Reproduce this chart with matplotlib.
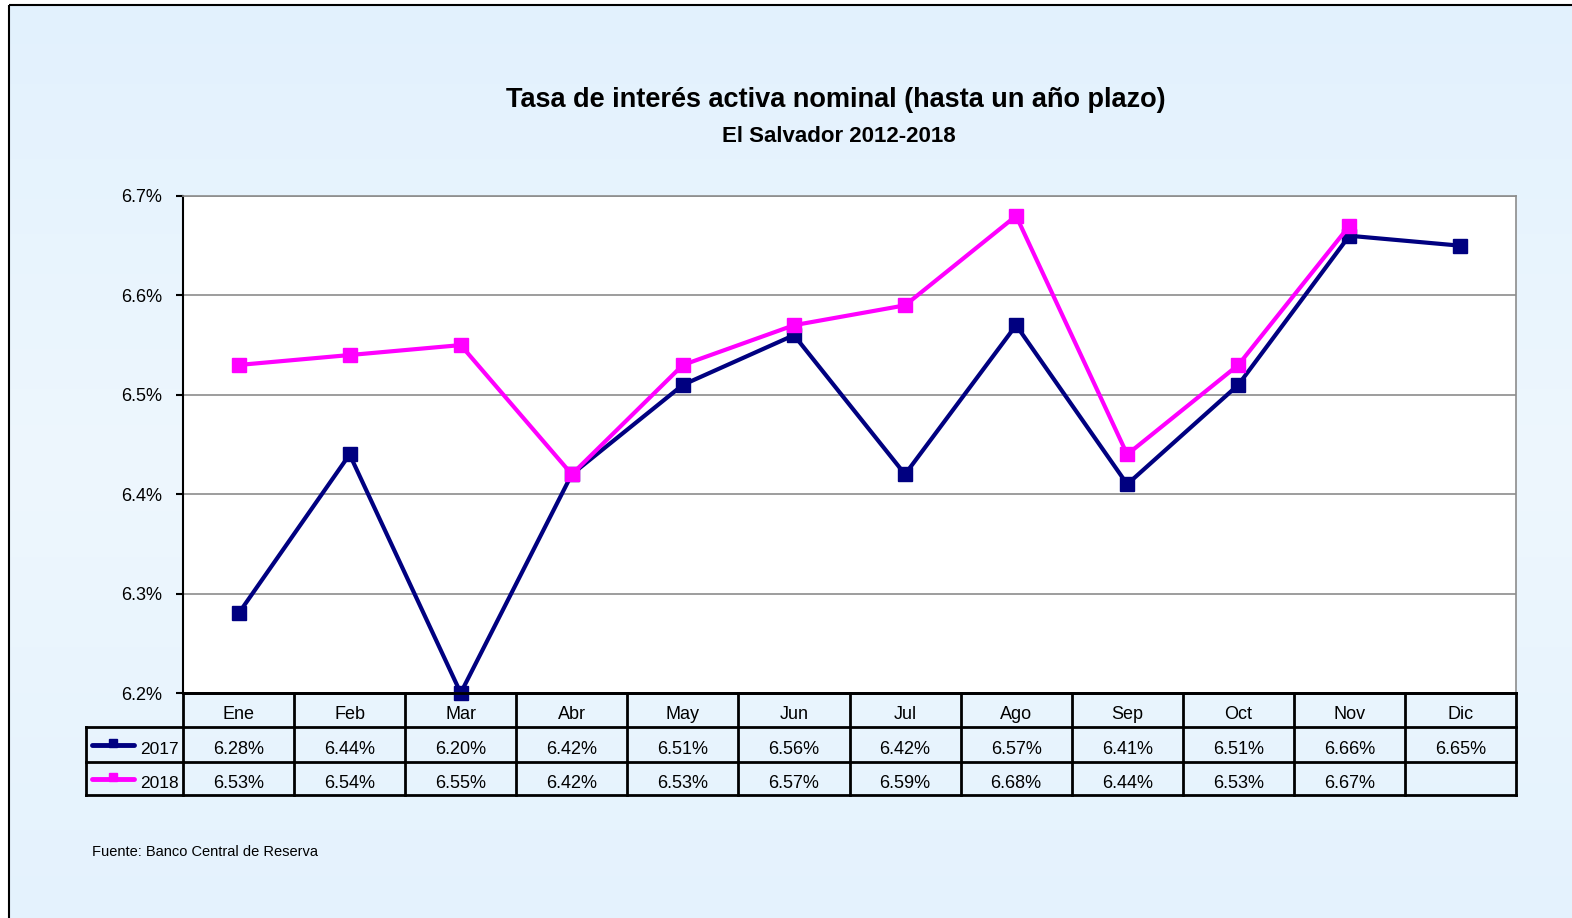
import matplotlib
matplotlib.use("Agg")
import matplotlib.pyplot as plt
from matplotlib.patches import Rectangle
from matplotlib.colors import LinearSegmentedColormap
import numpy as np

plt.rcParams['font.family'] = ['Liberation Sans', 'DejaVu Sans']

months = ["Ene", "Feb", "Mar", "Abr", "May", "Jun", "Jul", "Ago", "Sep", "Oct", "Nov", "Dic"]
s2017 = [6.28, 6.44, 6.20, 6.42, 6.51, 6.56, 6.42, 6.57, 6.41, 6.51, 6.66, 6.65]
s2018 = [6.53, 6.54, 6.55, 6.42, 6.53, 6.57, 6.59, 6.68, 6.44, 6.53, 6.67, None]
yticks = [6.2, 6.3, 6.4, 6.5, 6.6, 6.7]
title = "Tasa de interés activa nominal (hasta un año plazo)"
subtitle = "El Salvador 2012-2018"
source = "Fuente: Banco Central de Reserva"

C17 = "#000080"
C18 = "#FF00FF"
W, H = 1572, 918
fig = plt.figure(figsize=(W / 100, H / 100), dpi=100)
fig.patch.set_facecolor("white")

# background panel with border
bg = fig.add_axes([0, 0, 1, 1])
bg.set_xlim(0, W)
bg.set_ylim(H, 0)
bg.axis("off")
grad = np.linspace(0, 1, 256).reshape(-1, 1)
cm = LinearSegmentedColormap.from_list("g", ["#E2F1FD", "#EEF7FE", "#E4F2FD"])
bg.imshow(grad, extent=[9, W + 5, H + 5, 5], cmap=cm, aspect="auto", zorder=0)
bg.add_patch(Rectangle((9, 5), W, H, fill=False, edgecolor="black", lw=1.5, zorder=1))

L, R, T, B = 183, 1516, 196, 693
ax = fig.add_axes([L / W, 1 - B / H, (R - L) / W, (B - T) / H])
ax.set_facecolor("white")
x = np.arange(len(months))
ax.set_xlim(-0.5, len(months) - 0.5)
ax.set_ylim(6.2, 6.7)
ax.set_yticks(yticks)
ax.set_yticklabels([f"{v:.1f}%" for v in yticks], fontsize=13)
ax.yaxis.grid(True, color="#8C8C8C", lw=1.2)
ax.set_axisbelow(True)
ax.set_xticks([])
ax.tick_params(axis="y", length=5, width=1.5, pad=10)
for s in ["top", "right"]:
    ax.spines[s].set_color("#8C8C8C")
    ax.spines[s].set_linewidth(1.2)
ax.spines["left"].set_linewidth(1.5)
ax.spines["bottom"].set_linewidth(2)

y18 = np.array([np.nan if v is None else v for v in s2018], dtype=float)
ax.plot(x, s2017, color=C17, lw=3.0, marker="s", ms=10, clip_on=False, zorder=3)
ax.plot(x, y18, color=C18, lw=3.0, marker="s", ms=10, clip_on=False, zorder=4)

# titles
fig.text(836 / W, 1 - 100 / H, title, ha="center", va="center", fontsize=19.5, fontweight="bold")
fig.text(839 / W, 1 - 136 / H, subtitle, ha="center", va="center", fontsize=16, fontweight="bold")
fig.text(92 / W, 1 - 852 / H, source, ha="left", va="center", fontsize=10.5)

# data table
tb = fig.add_axes([0, 0, 1, 1])
tb.set_xlim(0, W)
tb.set_ylim(H, 0)
tb.axis("off")
cw = (R - L) / len(months)
rows = [693, 727, 762, 795]
TL = 86
lw = 2
tb.plot([L, R], [rows[0]] * 2, color="black", lw=lw)
for yy in rows[1:]:
    tb.plot([TL, R], [yy, yy], color="black", lw=lw)
for i in range(len(months) + 1):
    xx = L + i * cw
    tb.plot([xx, xx], [rows[0], rows[3]], color="black", lw=lw)
tb.plot([TL, TL], [rows[1], rows[3]], color="black", lw=lw)
fs = 13
dy = 4.5
for i, m in enumerate(months):
    cx = L + (i + 0.5) * cw
    tb.text(cx, (rows[0] + rows[1]) / 2 + dy, m, ha="center", va="center", fontsize=fs)
    tb.text(cx, (rows[1] + rows[2]) / 2 + dy, f"{s2017[i]:.2f}%", ha="center", va="center", fontsize=fs)
    if s2018[i] is not None:
        tb.text(cx, (rows[2] + rows[3]) / 2 + dy, f"{s2018[i]:.2f}%", ha="center", va="center", fontsize=fs)
for (lab, col, r) in [("2017", C17, 1), ("2018", C18, 2)]:
    yc = (rows[r] + rows[r + 1]) / 2
    tb.plot([92, 134], [yc, yc], color=col, lw=3.5, solid_capstyle="round")
    tb.plot([113], [yc - 2], marker="s", color=col, ms=6)
    tb.text(179, yc + dy, lab, ha="right", va="center", fontsize=12.5)

fig.savefig("out.png", dpi=100)
